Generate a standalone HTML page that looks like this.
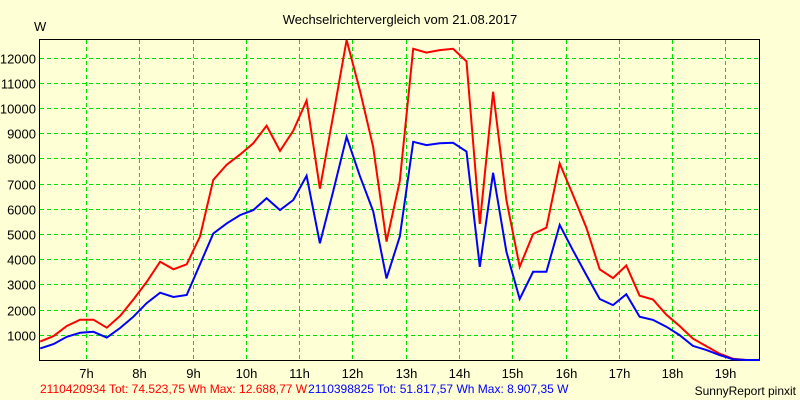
<!DOCTYPE html>
<html><head><meta charset="utf-8"><style>
body{margin:0;background:#FFFFD5;}
svg{display:block;font-family:"Liberation Sans",sans-serif;}
</style></head><body>
<svg id="chart" width="800" height="400" viewBox="0 0 800 400">
<rect x="0" y="0" width="800" height="400" fill="#FFFFD5"/>
<text x="400" y="24" font-size="13" text-anchor="middle" fill="#000">Wechselrichtervergleich vom 21.08.2017</text>
<text x="34" y="31" font-size="13" fill="#000">W</text>
<g id="grid"></g>
<g id="axes"></g>
<g id="series"></g>
<text x="40" y="393" font-size="12"><tspan fill="#FF0000">2110420934 Tot: 74.523,75 Wh Max: 12.688,77 W</tspan><tspan fill="#0000FF" dx="1">2110398825 Tot: 51.817,57 Wh Max: 8.907,35 W</tspan></text>
<text x="796" y="395" font-size="12" text-anchor="end" fill="#000">SunnyReport pinxit</text>
</svg>
<script>
const times = [6.14,6.39,6.64,6.89,7.14,7.39,7.64,7.89,8.14,8.39,8.64,8.89,9.14,9.39,9.64,9.89,10.14,10.39,10.64,10.89,11.14,11.39,11.64,11.89,12.14,12.39,12.64,12.89,13.14,13.39,13.64,13.89,14.14,14.39,14.64,14.89,15.14,15.39,15.64,15.89,16.14,16.39,16.64,16.89,17.14,17.39,17.64,17.89,18.14,18.39,18.64,18.89,19.14,19.39,19.64];
const redValues = [730,950,1350,1600,1600,1280,1750,2400,3100,3900,3600,3800,4900,7150,7750,8150,8600,9300,8300,9100,10300,6800,9700,12700,10700,8450,4700,7100,12350,12200,12300,12350,11850,5400,10650,6350,3700,5000,5250,7800,6550,5250,3600,3250,3750,2550,2400,1800,1350,850,550,250,50,0,0];
const blueValues = [460,630,920,1080,1120,890,1270,1720,2260,2670,2500,2580,3800,5020,5420,5750,5950,6420,5950,6350,7310,4630,6700,8860,7300,5900,3240,4900,8660,8530,8600,8620,8270,3700,7430,4300,2420,3500,3500,5360,4350,3370,2420,2180,2610,1720,1590,1320,990,560,400,200,30,0,0];
const yTicks = [1000,2000,3000,4000,5000,6000,7000,8000,9000,10000,11000,12000];
const xTicks = [7,8,9,10,11,12,13,14,15,16,17,18,19];

const L=40,R=759,T=40,B=360;
const tMin=6.137,tMax=19.63,vMax=12700;
const xs=t=>L+(t-tMin)/(tMax-tMin)*(R-L);
const ys=v=>B-v/vMax*(B-T);
const NS='http://www.w3.org/2000/svg';
const grid=document.getElementById('grid'),axes=document.getElementById('axes'),series=document.getElementById('series');
function mk(tag,attrs,parent){const e=document.createElementNS(NS,tag);for(const k in attrs)e.setAttribute(k,attrs[k]);parent.appendChild(e);return e;}
yTicks.forEach(v=>{
  const y=Math.round(ys(v))+0.5;
  const g=mk('line',{x1:L,x2:R,y1:y,y2:y,stroke:'#00E000','stroke-dasharray':'4,3','stroke-width':1},grid);
  
  
  const t=mk('text',{x:36,y:y+5,'font-size':13,'text-anchor':'end',fill:'#000'},axes);
  t.textContent=v;
  
  
});
xTicks.forEach(h=>{
  const x=Math.round(xs(h))+0.5;
  const g=mk('line',{x1:x,x2:x,y1:T,y2:B,stroke:'#00E000','stroke-dasharray':'4,3','stroke-width':1},grid);
  
  
  const t=mk('text',{x:x,y:378,'font-size':13,'text-anchor':'middle',fill:'#000'},axes);
  t.textContent=h+'h';
  
  
});
const frame=mk('rect',{x:L-0.5,y:T-0.5,width:R-L+1,height:B-T+1,fill:'none',stroke:'#000','stroke-width':1},axes);


function line(vals,color,name){
  const p=mk('polyline',{points:vals.map((v,i)=>xs(times[i]).toFixed(1)+','+ys(v).toFixed(1)).join(' '),fill:'none',stroke:color,'stroke-width':2,'stroke-linejoin':'miter'},series);
  
  
}
line(redValues,'#FF0000','red-inverter-line');
line(blueValues,'#0000FF','blue-inverter-line');
</script>
</body></html>
